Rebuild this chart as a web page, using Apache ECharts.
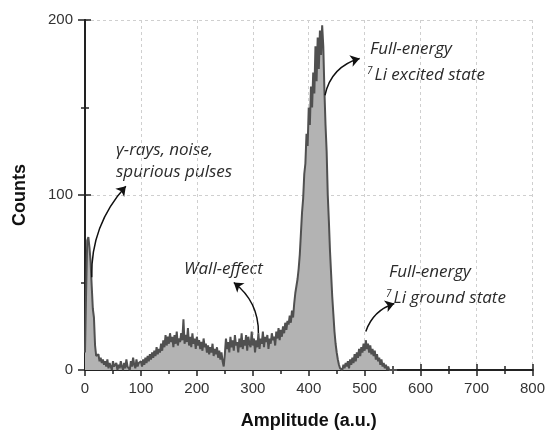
<!DOCTYPE html>
<html>
<head>
<meta charset="utf-8">
<script src="https://cdn.jsdelivr.net/npm/echarts@6/dist/echarts.min.js"></script>
<style>
	html,body{margin:0;padding:0;background:#fff;}
	#main{width:548px;height:435px;}
</style>
</head>
<body>
<div id="main"></div>
<script>
	// amplitude bins (a.u.), one row = 50 a.u.
	var amplitude = [
		0,2,4,6,8,10,12,14,16,18,20,22,24,26,28,30,32,34,36,38,40,42,44,46,48,
		50,52,54,56,58,60,62,64,66,68,70,72,74,76,78,80,82,84,86,88,90,92,94,96,98,
		100,102,104,106,108,110,112,114,116,118,120,122,124,126,128,130,132,134,136,138,140,142,144,146,148,
		150,152,154,156,158,160,162,164,166,168,170,172,174,176,178,180,182,184,186,188,190,192,194,196,198,
		200,202,204,206,208,210,212,214,216,218,220,222,224,226,228,230,232,234,236,238,240,242,244,246,248,
		250,252,254,256,258,260,262,264,266,268,270,272,274,276,278,280,282,284,286,288,290,292,294,296,298,
		300,302,304,306,308,310,312,314,316,318,320,322,324,326,328,330,332,334,336,338,340,342,344,346,348,
		350,352,354,356,358,360,362,364,366,368,370,372,374,376,378,380,382,384,386,388,390,392,394,396,398,
		400,402,404,406,408,410,412,414,416,418,420,422,424,426,428,430,432,434,436,438,440,442,444,446,448,
		450,452,454,456,458,460,462,464,466,468,470,472,474,476,478,480,482,484,486,488,490,492,494,496,498,
		500,502,504,506,508,510,512,514,516,518,520,522,524,526,528,530,532,534,536,538,540,542,544,546,548,
		550,552,554,556,558
	];
	// counts, same rows as above
	var counts = [
		10,45,74,76,70,62,48,35,30,14,8,8,9,5,7,4,6,3,5,2,6,1,4,3,0,
		5,2,1,4,0,3,1,5,2,0,4,1,6,2,3,0,5,2,7,3,1,6,2,4,3,
		5,2,6,3,7,4,8,5,9,6,10,7,11,8,13,9,12,10,15,11,17,13,20,14,19,
		15,21,16,19,13,20,15,22,14,18,16,21,17,29,15,20,16,24,14,19,13,21,15,18,12,
		19,14,17,12,16,11,18,13,15,10,14,9,13,10,15,8,12,9,13,7,11,6,10,5,2,
		9,18,12,16,10,19,13,17,11,20,14,16,10,18,13,21,12,17,14,20,11,19,15,13,22,
		14,18,10,17,13,21,12,18,15,22,13,19,16,20,12,18,15,21,17,19,14,22,18,24,17,
		23,19,25,21,27,23,28,26,31,27,34,30,38,44,48,52,58,66,78,90,98,112,118,135,128,
		150,140,162,150,170,158,185,165,190,172,194,180,197,185,160,140,125,100,85,68,55,42,32,22,15,
		10,6,3,1,2,0,3,1,4,2,5,1,6,3,7,4,9,5,10,7,12,8,13,10,15,
		11,17,12,15,10,14,9,12,8,11,6,9,5,7,3,6,2,4,1,3,0,2,0,1,0,
		0,0,0,0,0
	];
	var xTicks = [0,100,200,300,400,500,600,700,800];
	var yTicks = [0,100,200];

	// arrows: from, to (data coords), curveness
	var arrowFrom = [[12,53],[310,21],[429,157],[502,22]];
	var arrowTo = [[73,105],[266,50],[491,178],[553,38]];
	var arrowBend = [0.2,-0.25,0.3,0.25];

	var seriesData = [];
	for(var i=0;i<amplitude.length;i++){
		seriesData.push([amplitude[i],counts[i]]);
	}
	var arrowData = [];
	for(var k=0;k<arrowFrom.length;k++){
		arrowData.push({coords:[arrowFrom[k],arrowTo[k]],lineStyle:{curveness:arrowBend[k]}});
	}

	var txtFont = {fontFamily:'Open Sans',fontStyle:'italic',fontSize:17,fill:'#2b2b2b'};
	var supRich = {
		s:{fontFamily:'Open Sans',fontStyle:'italic',fontSize:10,fill:'#2b2b2b',verticalAlign:'top',padding:[0,2,9,0]},
		n:{fontFamily:'Open Sans',fontStyle:'italic',fontSize:17,fill:'#2b2b2b'}
	};
	function label(x,y,str){
		return {type:'text',left:x,top:y,silent:true,style:Object.assign({text:str},txtFont)};
	}
	function supLabel(x,y,str){
		return {type:'text',left:x,top:y,silent:true,style:{text:'{s|7}{n|'+str+'}',rich:supRich}};
	}

	var axisLine = {show:true,lineStyle:{color:'#222',width:2}};
	var tickStyle = {color:'#222',width:1.5};
	var gridLine = {show:true,lineStyle:{color:'#cfcfcf',type:[3,3],width:1}};

	var option = {
		animation:false,
		backgroundColor:'#fff',
		grid:{left:85,right:12,top:20,bottom:58},
		xAxis:[{
			type:'value',min:xTicks[0],max:xTicks[xTicks.length-1],interval:100,
			name:'Amplitude (a.u.)',nameLocation:'middle',nameGap:42,
			nameTextStyle:{fontFamily:'Liberation Sans',fontWeight:'bold',fontSize:18,color:'#111'},
			axisLine:axisLine,
			axisTick:{show:true,length:6,lineStyle:tickStyle},
			minorTick:{show:true,splitNumber:2,length:4,lineStyle:tickStyle},
			axisLabel:{fontFamily:'Liberation Sans',fontSize:15,color:'#333',margin:11},
			splitLine:gridLine
		},{
			type:'value',position:'top',min:xTicks[0],max:xTicks[xTicks.length-1],interval:100,
			axisLine:axisLine,
			axisTick:{show:true,length:6,lineStyle:tickStyle},
			minorTick:{show:true,splitNumber:2,length:4,lineStyle:tickStyle},
			axisLabel:{show:false},splitLine:{show:false}
		}],
		yAxis:[{
			type:'value',min:yTicks[0],max:yTicks[yTicks.length-1],interval:100,
			name:'Counts',nameLocation:'middle',nameGap:56,
			nameTextStyle:{fontFamily:'Liberation Sans',fontWeight:'bold',fontSize:18,color:'#111'},
			axisLine:axisLine,
			axisTick:{show:true,length:7,lineStyle:tickStyle},
			minorTick:{show:true,splitNumber:2,length:4,lineStyle:tickStyle},
			axisLabel:{fontFamily:'Liberation Sans',fontSize:15,color:'#333',margin:12},
			splitLine:gridLine
		},{
			type:'value',position:'right',min:yTicks[0],max:yTicks[yTicks.length-1],interval:100,
			axisLine:axisLine,
			axisTick:{show:true,length:6,lineStyle:tickStyle},
			minorTick:{show:true,splitNumber:2,length:4,lineStyle:tickStyle},
			axisLabel:{show:false},splitLine:{show:false}
		}],
		series:[{
			type:'line',
			data:seriesData,
			showSymbol:false,
			lineStyle:{color:'#505050',width:2},
			areaStyle:{color:'#b3b3b3',opacity:1},
			z:2
		},{
			type:'lines',
			coordinateSystem:'cartesian2d',
			xAxisIndex:0,yAxisIndex:0,
			silent:true,
			symbol:['none','arrow'],
			symbolSize:9,
			lineStyle:{color:'#111',width:1.5,opacity:1},
			data:arrowData,
			z:5
		}],
		graphic:[
			label(116,142,'\u03b3-rays, noise,'),
			label(116,164,'spurious pulses'),
			label(184,261,'Wall-effect'),
			label(370,41,'Full-energy'),
			supLabel(367,66,'Li excited state'),
			label(389,264,'Full-energy'),
			supLabel(386,289,'Li ground state')
		]
	};

	var myChart = echarts.init(document.getElementById('main'));
	myChart.setOption(option);
</script>
</body>
</html>
